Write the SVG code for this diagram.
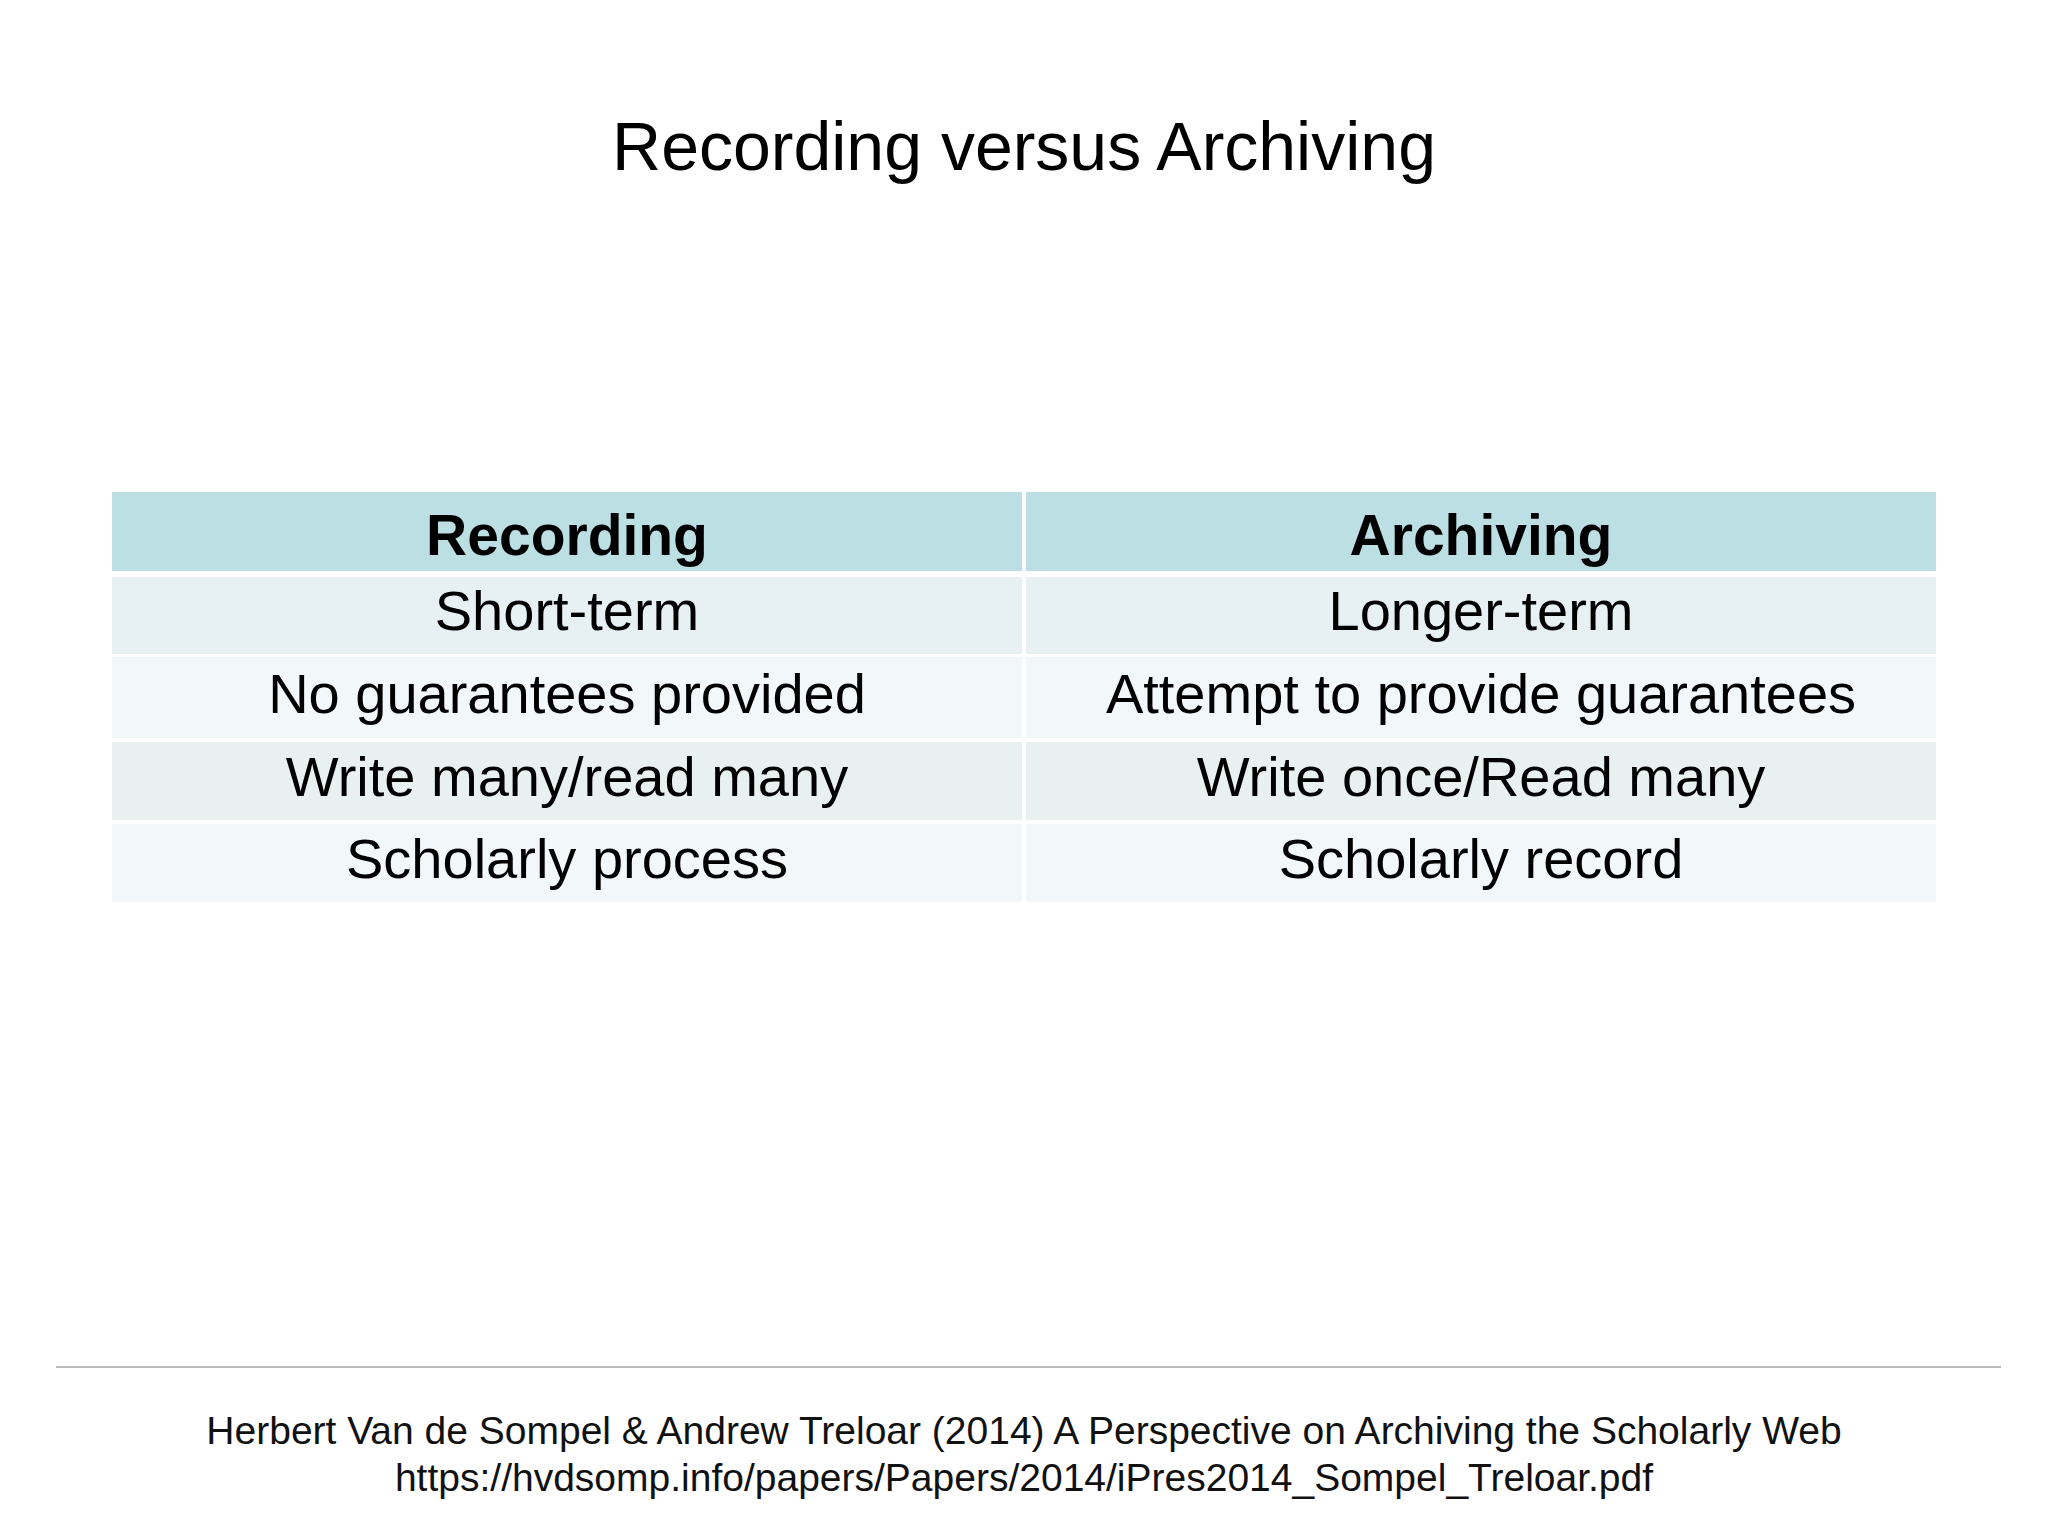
<svg xmlns="http://www.w3.org/2000/svg" width="2048" height="1536" viewBox="0 0 2048 1536">
<style>
text{font-family:"Liberation Sans",Arial,sans-serif;fill:#000;text-anchor:middle}
.h{font-size:57px;font-weight:bold}
.c{font-size:56px}
.f{font-size:39px;fill:#111}
</style>
<rect width="2048" height="1536" fill="#fff"/>
<text x="1024" y="170" style="font-size:68px">Recording versus Archiving</text>
<g id="table">
<rect x="112" y="492" width="910" height="79" fill="#bcdfe4"/>
<rect x="1026" y="492" width="910" height="79" fill="#bcdfe4"/>
<rect x="112" y="577" width="910" height="77" fill="#e7f1f3"/>
<rect x="1026" y="577" width="910" height="77" fill="#e7f1f3"/>
<rect x="112" y="657" width="910" height="81" fill="#f2f8f9"/>
<rect x="1026" y="657" width="910" height="81" fill="#f2f8f9"/>
<rect x="112" y="742" width="910" height="78" fill="#e8f1ef"/>
<rect x="1026" y="742" width="910" height="78" fill="#e8f1ef"/>
<rect x="112" y="824" width="910" height="78" fill="#f2f8f9"/>
<rect x="1026" y="824" width="910" height="78" fill="#f2f8f9"/>
<text class="h" x="567" y="555">Recording</text>
<text class="h" x="1481" y="555">Archiving</text>
<text class="c" x="567" y="630">Short-term</text>
<text class="c" x="1481" y="630">Longer-term</text>
<text class="c" x="567" y="713">No guarantees provided</text>
<text class="c" x="1481" y="713">Attempt to provide guarantees</text>
<text class="c" x="567" y="796">Write many/read many</text>
<text class="c" x="1481" y="796">Write once/Read many</text>
<text class="c" x="567" y="878">Scholarly process</text>
<text class="c" x="1481" y="878">Scholarly record</text>
</g>
<line x1="56" y1="1367" x2="2001" y2="1367" stroke="#bbb" stroke-width="2"/>
<text class="f" x="1024" y="1444">Herbert Van de Sompel &amp; Andrew Treloar (2014) A Perspective on Archiving the Scholarly Web</text>
<text class="f" x="1024" y="1491">https://hvdsomp.info/papers/Papers/2014/iPres2014_Sompel_Treloar.pdf</text>
</svg>
